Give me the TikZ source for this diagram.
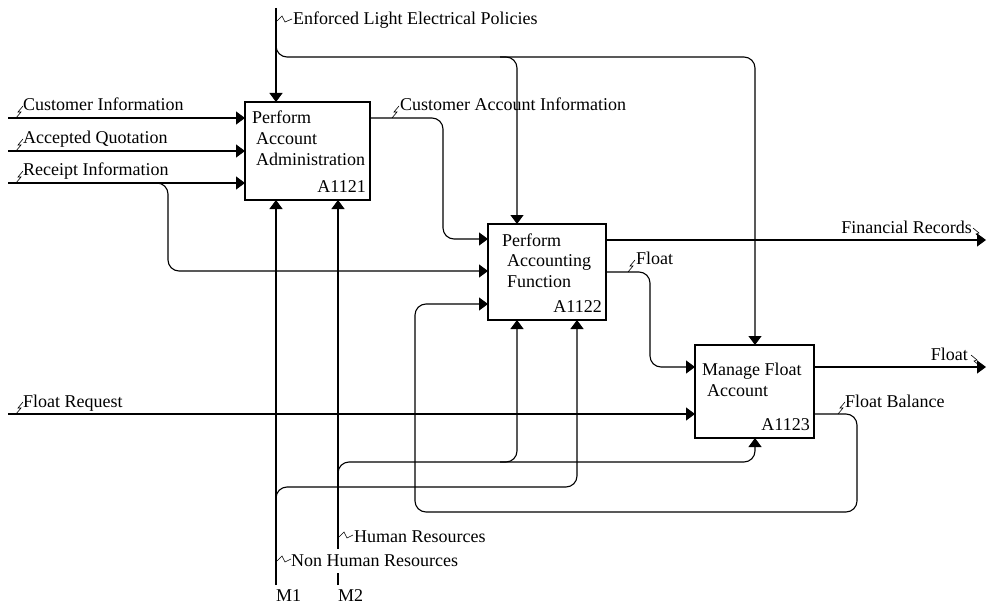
\documentclass[tikz,border=0pt]{standalone}
\usepackage{fontspec}
\setmainfont{Liberation Serif}
\usetikzlibrary{arrows.meta}
\begin{document}
\begin{tikzpicture}[x=1pt,y=-1pt,
  font=\fontsize{18}{21}\selectfont,
  flow/.style={line width=1.1pt, rounded corners=11pt},
  arr/.style={flow, -{Triangle[length=9pt,width=13pt]}},
  box/.style={draw, line width=1.2pt, fill=white, anchor=north west,
    inner sep=0pt, outer sep=0pt},
  lbl/.style={anchor=base west, inner sep=0pt},
  rlbl/.style={anchor=base east, inner sep=0pt},
  squig/.style={line width=0.6pt},
]
\useasboundingbox (0,0) rectangle (987,604);

% activity boxes
\node[box, minimum width=125pt, minimum height=98pt] (b1) at (245,102) {};
\node[box, minimum width=118pt, minimum height=96pt] (b2) at (488,224) {};
\node[box, minimum width=119pt, minimum height=93pt] (b3) at (695,345) {};

% box texts
\node[lbl] (b1a) at (252,124) {Perform};
\node[lbl] (b1b) at (256,145) {Account};
\node[lbl] (b1c) at (256,166) {Administration};
\node[rlbl] (b1n) at (366,193) {A1121};

\node[lbl] (b2a) at (502,246) {Perform};
\node[lbl] (b2b) at (507,266) {Accounting};
\node[lbl] (b2c) at (507,287) {Function};
\node[rlbl] (b2n) at (602,312) {A1122};

\node[lbl] (b3a) at (702,375) {Manage Float};
\node[lbl] (b3b) at (707,396) {Account};
\node[rlbl] (b3n) at (810,430) {A1123};

% free ends
\coordinate (ciS) at (8,118);
\coordinate (aqS) at (8,151);
\coordinate (riS) at (8,183);
\coordinate (frS) at (8,414);
\coordinate (ctS) at (276,8);
\coordinate (m1S) at (276,585);
\coordinate (m2S) at (338,585);
\coordinate (m2G) at (338,573);
\coordinate (m2H) at (338,549);
\coordinate (finE) at (986,240);
\coordinate (flE) at (986,367);

% inputs of A1121
\draw[arr] (ciS) -- ([yshift=-16pt]b1.north west);
\draw[arr] (aqS) -- ([yshift=-49pt]b1.north west);
\draw[arr] (riS) -- ([yshift=-81pt]b1.north west);
\draw[arr] (150,183) -- (168,183) -- (168,271) -- ([yshift=-47pt]b2.north west);

% control
\draw[arr] (ctS) -- ([xshift=31pt]b1.north west);
\draw[arr] (276,40) -- (276,57) -- (755,57) -- ([xshift=60pt]b3.north west);
\draw[arr] (500,57) -- (517,57) -- ([xshift=29pt]b2.north west);

% A1121 output
\draw[arr] ([yshift=-16pt]b1.north east) -- (443,118) -- (443,239)
  -- ([yshift=-15pt]b2.north west);

% A1122 outputs
\draw[arr] ([yshift=-16pt]b2.north east) -- (finE);
\draw[arr] ([yshift=-48pt]b2.north east) -- (650,272) -- (650,367)
  -- ([yshift=-22pt]b3.north west);

% A1123 input and outputs
\draw[arr] (frS) -- ([yshift=-69pt]b3.north west);
\draw[arr] ([yshift=-22pt]b3.north east) -- (flE);
\draw[arr] ([yshift=-69pt]b3.north east) -- (857,414) -- (857,512)
  -- (415,512) -- (415,304) -- ([yshift=-80pt]b2.north west);

% mechanisms
\draw[arr] (m1S) -- ([xshift=31pt]b1.south west);
\draw[arr] (276,510) -- (276,487) -- (577,487) -- ([xshift=89pt]b2.south west);
\draw[flow] (m2S) -- (m2G);
\draw[arr] (m2H) -- ([xshift=93pt]b1.south west);
\draw[arr] (338,480) -- (338,462) -- (755,462) -- ([xshift=60pt]b3.south west);
\draw[arr] (500,462) -- (517,462) -- ([xshift=29pt]b2.south west);

% arrow labels
\node[lbl] (lci) at (23,111) {Customer Information};
\node[lbl] (laq) at (23,144) {Accepted Quotation};
\node[lbl] (lri) at (23,176) {Receipt Information};
\node[lbl] (lfr) at (23,407) {Float Request};
\node[lbl] (lct) at (293,25) {Enforced Light Electrical Policies};
\node[lbl] (lca) at (400,111) {Customer Account Information};
\node[rlbl] (lfin) at (972,233) {Financial Records};
\node[lbl] (lfl2) at (636,264) {Float};
\node[rlbl] (lfl3) at (968,360) {Float};
\node[lbl] (lfb) at (845,407) {Float Balance};
\node[lbl] (lhr) at (354,542) {Human Resources};
\node[lbl] (lnh) at (291,566) {Non Human Resources};
\node[lbl] (lm1) at (276,601) {M1};
\node[lbl] (lm2) at (338,601) {M2};

% squiggles tying labels to arrows
\draw[squig] (16,118) -- (21,112) -- (18,112) -- (23,106);
\draw[squig] (16,151) -- (21,145) -- (18,145) -- (23,139);
\draw[squig] (16,183) -- (21,177) -- (18,177) -- (23,171);
\draw[squig] (16,414) -- (21,408) -- (18,408) -- (23,402);
\draw[squig] (392,118) -- (397,112) -- (394,112) -- (399,106);
\draw[squig] (628,272) -- (633,266) -- (630,266) -- (635,260);
\draw[squig] (838,414) -- (843,408) -- (840,408) -- (845,402);
\draw[squig] (277,21) -- (282,16) -- (285,22) -- (292,19);
\draw[squig] (339,537) -- (344,532) -- (347,538) -- (353,535);
\draw[squig] (277,561) -- (282,556) -- (285,562) -- (291,559);
\draw[squig] (973,228) -- (979,233) -- (976,234) -- (982,239);
\draw[squig] (971,355) -- (977,360) -- (974,361) -- (980,366);
\end{tikzpicture}
\end{document}
